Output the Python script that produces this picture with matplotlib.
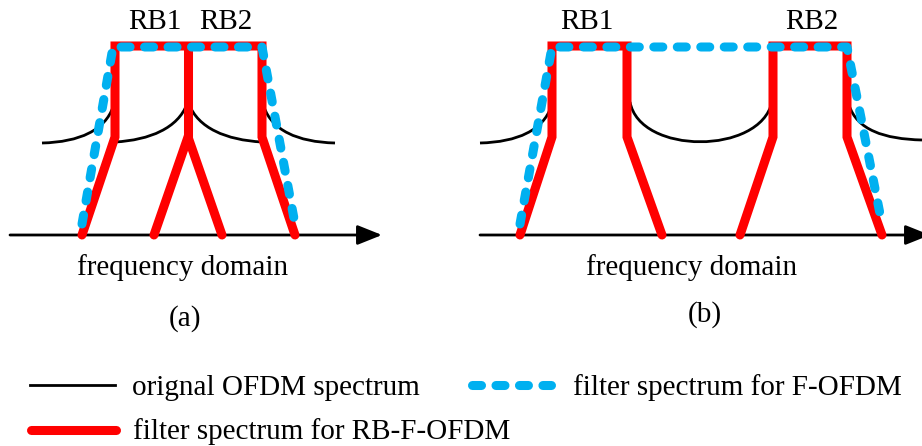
import matplotlib
matplotlib.use("Agg")
import matplotlib.pyplot as plt
from matplotlib.path import Path
from matplotlib.patches import PathPatch

# ---------------- diagram data (pixel coordinates of the sketch) ----------------
# panel (a)
a_axis = [(10, 235), (382, 235)]
a_red_outer = [(82, 235), (115, 137), (115, 46), (262, 46), (262, 137), (295, 235)]
a_red_center_stem = [(188, 46), (188, 137)]
a_red_center_legs = [(154, 235), (188, 137), (222, 235)]
a_blue = [(82, 224), (113, 47), (262, 47), (295, 224)]
a_curves = [
    [(42, 143), (80, 142), (105, 130), (113, 107)],
    [(115, 142), (150, 140), (178, 128), (187, 104)],
    [(189, 104), (198, 128), (226, 140), (262, 142)],
    [(264, 107), (272, 130), (297, 142), (335, 143)],
]
a_labels = [("RB1", 155), ("RB2", 226)]

# panel (b)
b_axis = [(480, 235), (930, 235)]
b_red_rb1 = [(520, 235), (552, 137), (552, 46), (627, 46), (627, 137), (662, 235)]
b_red_rb2 = [(740, 235), (773, 137), (773, 46), (847, 46), (847, 137), (882, 235)]
b_blue = [(520, 224), (552, 47), (847, 47), (882, 224)]
b_curves = [
    [(480, 143), (518, 142), (543, 130), (551, 107)],
    [(630, 102), (640, 155), (760, 155), (772, 102)],
    [(849, 105), (857, 130), (884, 139), (922, 140)],
]
b_labels = [("RB1", 587), ("RB2", 812)]

captions = [("frequency domain", 183, 275), ("frequency domain", 692, 275),
            ("(a)", 185, 326), ("(b)", 705, 322)]

legend_labels = ["orignal OFDM spectrum", "filter spectrum for F-OFDM",
                 "filter spectrum for RB-F-OFDM"]

RED = "#FF0000"
BLUE = "#00B0F0"
SERIF = ["Liberation Serif", "DejaVu Serif"]
FS = 21

fig = plt.figure(figsize=(9.22, 4.46), dpi=100)
ax = fig.add_axes([0, 0, 1, 1])
ax.set_xlim(0, 922)
ax.set_ylim(446, 0)
ax.axis("off")

def poly(pts, **kw):
    xs, ys = zip(*pts)
    ax.plot(xs, ys, **kw)

def curve(pts):
    path = Path(pts, [Path.MOVETO, Path.CURVE4, Path.CURVE4, Path.CURVE4])
    ax.add_patch(PathPatch(path, fill=False, edgecolor="black", lw=2.0, zorder=2))

def arrow(pts):
    (x0, y0), (x1, y1) = pts
    ax.annotate("", xy=(x1, y1), xytext=(x0, y0), annotation_clip=False,
                arrowprops=dict(arrowstyle="-|>,head_length=0.75,head_width=0.3",
                                color="black", lw=2.0, mutation_scale=20,
                                shrinkA=0, shrinkB=0), zorder=1)

red_kw = dict(color=RED, lw=6.5, solid_joinstyle="miter", solid_capstyle="round", zorder=3)
blue_kw = dict(color=BLUE, lw=6.5, linestyle=(0, (1.0, 1.6)),
               dash_capstyle="round", dash_joinstyle="round", zorder=4)

# axes arrows
arrow(a_axis)
arrow(b_axis)

# black OFDM spectrum curves
for c in a_curves + b_curves:
    curve(c)

# red RB filters
poly(a_red_outer, **red_kw)
poly(a_red_center_stem, **red_kw)
poly(a_red_center_legs, **red_kw)
poly(b_red_rb1, **red_kw)
poly(b_red_rb2, **red_kw)

# blue F-OFDM filters
poly(a_blue, **blue_kw)
poly(b_blue, **blue_kw)

# labels
for txt, x in a_labels + b_labels:
    ax.text(x, 29, txt, ha="center", va="baseline", fontsize=FS, family=SERIF)
for txt, x, y in captions:
    ax.text(x, y, txt, ha="center", va="baseline", fontsize=FS, family=SERIF)

# legend (drawn manually)
ax.plot([30, 115], [385, 385], color="black", lw=2.0)
ax.text(132, 395, legend_labels[0], ha="left", va="baseline", fontsize=FS, family=SERIF)
ax.plot([472, 551], [385, 385], **blue_kw)
ax.text(573, 395, legend_labels[1], ha="left", va="baseline", fontsize=FS, family=SERIF)
ax.plot([31, 116], [430, 430], color=RED, lw=6.5, solid_capstyle="round")
ax.text(133, 439, legend_labels[2], ha="left", va="baseline", fontsize=FS, family=SERIF)

fig.savefig("out.png", dpi=100)
